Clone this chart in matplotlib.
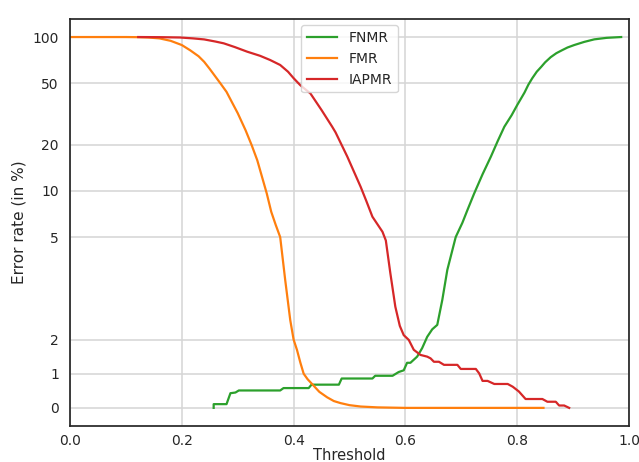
import numpy as np
import matplotlib
matplotlib.use('Agg')
import matplotlib.pyplot as plt

# error rates (in %)
fnmr_thr = [0.257, 0.257, 0.28, 0.287, 0.296, 0.302, 0.376, 0.382, 0.427, 0.432,
            0.481, 0.486, 0.541, 0.546, 0.577, 0.588, 0.597, 0.603, 0.609, 0.621,
            0.630, 0.639, 0.648, 0.657, 0.666, 0.675, 0.690, 0.702, 0.711, 0.723,
            0.738, 0.753, 0.765, 0.777, 0.790, 0.800, 0.813, 0.820, 0.827, 0.835,
            0.843, 0.850, 0.860, 0.870, 0.880, 0.890, 0.902, 0.920, 0.938, 0.960,
            0.986]
fnmr = [0.0, 0.11, 0.11, 0.43, 0.45, 0.51, 0.51, 0.58, 0.58, 0.68,
        0.68, 0.86, 0.86, 0.94, 0.94, 1.05, 1.1, 1.32, 1.32, 1.5,
        1.75, 2.08, 2.3, 2.43, 3.16, 4.04, 5.0, 6.2, 7.5, 9.6,
        12.8, 16.7, 21.0, 26.1, 31.0, 36.1, 43.5, 49.0, 54.0, 59.5,
        64.0, 68.5, 74.0, 78.5, 82.0, 85.5, 88.7, 93.0, 96.6, 98.8,
        100.0]

fmr_thr = [0.0, 0.10, 0.12, 0.14, 0.16, 0.18, 0.20, 0.215, 0.23, 0.24,
           0.25, 0.269, 0.28, 0.29, 0.30, 0.314, 0.325, 0.335, 0.343, 0.352,
           0.36, 0.368, 0.376, 0.385, 0.394, 0.40, 0.406, 0.412, 0.418, 0.425,
           0.433, 0.446, 0.46, 0.472, 0.484, 0.50, 0.52, 0.55, 0.60, 0.847]
fmr = [100.0, 100.0, 99.8, 99.3, 98.0, 94.5, 88.7, 82.0, 75.0, 69.0,
       62.0, 50.0, 44.0, 37.5, 32.0, 24.8, 19.8, 15.8, 12.5, 9.6,
       7.3, 6.0, 5.0, 3.74, 2.57, 2.0, 1.7, 1.33, 1.0, 0.84,
       0.7, 0.47, 0.31, 0.2, 0.14, 0.08, 0.04, 0.015, 0.0, 0.0]

iapmr_thr = [0.122, 0.16, 0.197, 0.22, 0.24, 0.26, 0.275, 0.295, 0.317, 0.34,
             0.358, 0.376, 0.39, 0.40, 0.412, 0.42, 0.430,
             0.450, 0.469, 0.475, 0.496, 0.52, 0.530, 0.541, 0.559, 0.565, 0.573,
             0.582, 0.590, 0.597, 0.606, 0.615, 0.627, 0.639, 0.645, 0.651, 0.660,
             0.669, 0.693, 0.699, 0.726, 0.732, 0.738, 0.747, 0.759, 0.783, 0.792,
             0.803, 0.815, 0.845, 0.854, 0.869, 0.875, 0.884, 0.893]
iapmr = [100.0, 99.8, 99.3, 98.0, 96.5, 93.5, 91.0, 86.0, 80.3, 75.5,
         70.9, 65.8, 59.5, 54.0, 48.6, 46.0, 43.0,
         33.5, 26.1, 24.0, 16.7, 10.6, 8.6, 6.78, 5.41, 4.9, 3.95,
         2.96, 2.4, 2.13, 1.99, 1.70, 1.55, 1.50, 1.45, 1.35, 1.35,
         1.26, 1.26, 1.14, 1.14, 1.01, 0.79, 0.79, 0.70, 0.70, 0.62,
         0.48, 0.26, 0.26, 0.18, 0.18, 0.07, 0.07, 0.0]

yticks = [0, 1, 2, 5, 10, 20, 50, 100]

dark = '#262626'
plt.rcParams['font.family'] = 'DejaVu Sans'
plt.rcParams['text.color'] = dark
plt.rcParams['axes.labelcolor'] = dark
plt.rcParams['xtick.color'] = dark
plt.rcParams['ytick.color'] = dark

fig = plt.figure(figsize=(6.39, 4.62), dpi=100)
ax = fig.add_axes([70 / 639, 36 / 462, 559 / 639, 407.5 / 462])

ax.plot(fnmr_thr, fnmr, color='#2ca02c', lw=1.6, label='FNMR')
ax.plot(fmr_thr, fmr, color='#ff7f0e', lw=1.6, label='FMR')
ax.plot(iapmr_thr, iapmr, color='#d62728', lw=1.6, label='IAPMR')

ax.set_yscale('symlog', linthresh=5, linscale=1)
ax.set_ylim(-0.53, 132)
ax.set_xlim(0, 1)
ax.set_yticks(yticks)
ax.set_yticklabels([str(t) for t in yticks])
ax.yaxis.set_minor_locator(matplotlib.ticker.NullLocator())
ax.set_xticks(np.arange(0, 1.01, 0.2))

ax.tick_params(length=0, labelsize=10)
ax.tick_params(axis='y', pad=8)
ax.tick_params(axis='x', pad=6)
ax.grid(True, color='#d5d5d5', lw=1.1)
ax.set_axisbelow(True)
for s in ax.spines.values():
    s.set_color(dark)
    s.set_linewidth(1.25)

ax.set_xlabel('Threshold', fontsize=10.5, labelpad=0)
ax.set_ylabel('Error rate (in %)', fontsize=11)
ax.legend(loc='upper center', fontsize=10, handlelength=2.2, framealpha=0.8)

fig.savefig('out.png', dpi=100)
